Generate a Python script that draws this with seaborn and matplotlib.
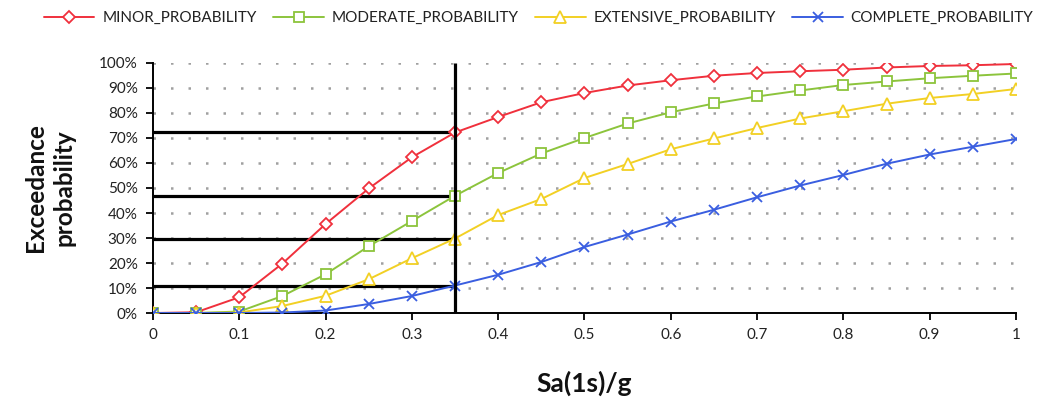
import matplotlib
matplotlib.use("Agg")
import matplotlib.pyplot as plt
import seaborn as sns
import pandas as pd

# Spectral acceleration Sa(1s)/g
sa = [0.0, 0.05, 0.1, 0.15, 0.2, 0.25, 0.3, 0.35, 0.4, 0.45, 0.5,
      0.55, 0.6, 0.65, 0.7, 0.75, 0.8, 0.85, 0.9, 0.95, 1.0]

# Exceedance probability (%) per damage state
minor = [0, 0.3, 6.3, 19.8, 35.6, 49.8, 62.3, 72.2, 78.4, 84.3, 88.0,
         91.0, 93.1, 94.9, 96.0, 96.7, 97.3, 98.2, 98.8, 99.1, 99.6]
moderate = [0, 0, 0.6, 6.8, 15.5, 26.7, 36.8, 46.9, 56.0, 63.8, 70.0,
            75.8, 80.3, 83.8, 86.6, 89.0, 91.2, 92.6, 93.9, 94.9, 95.8]
extensive = [0, 0, 0.2, 2.8, 6.9, 13.5, 21.9, 29.8, 39.2, 45.6, 54.0,
             59.6, 65.5, 69.8, 74.0, 77.8, 80.7, 83.7, 86.0, 87.6, 89.6]
complete = [0, 0, 0, 0.2, 1.0, 3.6, 6.8, 11.0, 15.3, 20.4, 26.4,
            31.4, 36.6, 41.3, 46.3, 51.0, 55.2, 59.7, 63.4, 66.5, 69.6]

series_names = ["MINOR_PROBABILITY", "MODERATE_PROBABILITY",
                "EXTENSIVE_PROBABILITY", "COMPLETE_PROBABILITY"]
x_ticks = [0, 0.1, 0.2, 0.3, 0.4, 0.5, 0.6, 0.7, 0.8, 0.9, 1.0]
x_tick_labels = ["0", "0.1", "0.2", "0.3", "0.4", "0.5", "0.6", "0.7", "0.8", "0.9", "1"]
y_ticks = [0, 10, 20, 30, 40, 50, 60, 70, 80, 90, 100]
y_tick_labels = [f"{v}%" for v in y_ticks]

# Intensity level
sa_ref = 0.35

colors = ["#F0303C", "#8CC43C", "#F2D024", "#3A5EE0"]
markers = ["D", "s", "^", "x"]
marker_sizes = [6.5, 7, 8, 7]

sns.set_theme(style="white")
plt.rcParams["font.family"] = ["Lato", "DejaVu Sans"]

df = pd.DataFrame({"sa": sa, series_names[0]: minor, series_names[1]: moderate,
                   series_names[2]: extensive, series_names[3]: complete})
long_df = df.melt(id_vars="sa", var_name="state", value_name="prob")

fig = plt.figure(figsize=(10.5, 4.03), dpi=100)
ax = fig.add_axes([0.1457, 0.2233, 0.8219, 0.6204])

# Dotted horizontal gridlines
for v in y_ticks[1:]:
    ax.axhline(v, color="#a0a0a0", lw=1.8, ls=(0, (1, 6)), zorder=0)

for name, c, m, ms in zip(series_names, colors, markers, marker_sizes):
    sub = long_df[long_df["state"] == name]
    sns.lineplot(data=sub, x="sa", y="prob", ax=ax, color=c, lw=1.4,
                 marker=m, markersize=ms, markerfacecolor="white",
                 markeredgecolor=c, markeredgewidth=1.3, label=name,
                 legend=False, zorder=3)

# Reference lines at Sa = 0.35
idx = sa.index(sa_ref)
ax.plot([sa_ref, sa_ref], [0, 100], color="black", lw=2.3, zorder=4,
        solid_capstyle="butt")
for vals in (minor, moderate, extensive, complete):
    ax.plot([0, sa_ref], [vals[idx], vals[idx]], color="black", lw=2.3,
            zorder=2, solid_capstyle="butt")

ax.set_xlim(0, 1.0)
ax.set_ylim(0, 100)
ax.set_xticks(x_ticks)
ax.set_xticklabels(x_tick_labels, fontsize=11, color="#222222")
ax.set_yticks(y_ticks)
ax.set_yticklabels(y_tick_labels, fontsize=11, color="#222222")
ax.tick_params(axis="both", which="both", direction="out", length=5,
               width=1.3, color="black", bottom=True, left=True, pad=6)

for side in ("top", "right"):
    ax.spines[side].set_visible(False)
for side in ("left", "bottom"):
    ax.spines[side].set_color("black")
    ax.spines[side].set_linewidth(1.4)
ax.set_xlabel("")
ax.set_ylabel("")

fig.text(50 / 1050, 0.5335, "Exceedance\nprobability", rotation=90,
         ha="center", va="center", multialignment="center",
         fontsize=17.5, fontweight="bold", color="#111111", linespacing=1.3)
fig.text(0.5567, 0.048, "Sa(1s)/g", ha="center", va="center",
         fontsize=19, fontweight="bold", color="#111111")

handles, labels = ax.get_legend_handles_labels()
fig.legend(handles, labels, loc="center", bbox_to_anchor=(0.513, 0.955),
           ncol=4, frameon=False, handlelength=3.3,
           columnspacing=1.1, handletextpad=0.5, labelcolor="#222222",
           fontsize=11)

fig.savefig("out.png", dpi=100, facecolor="white")
